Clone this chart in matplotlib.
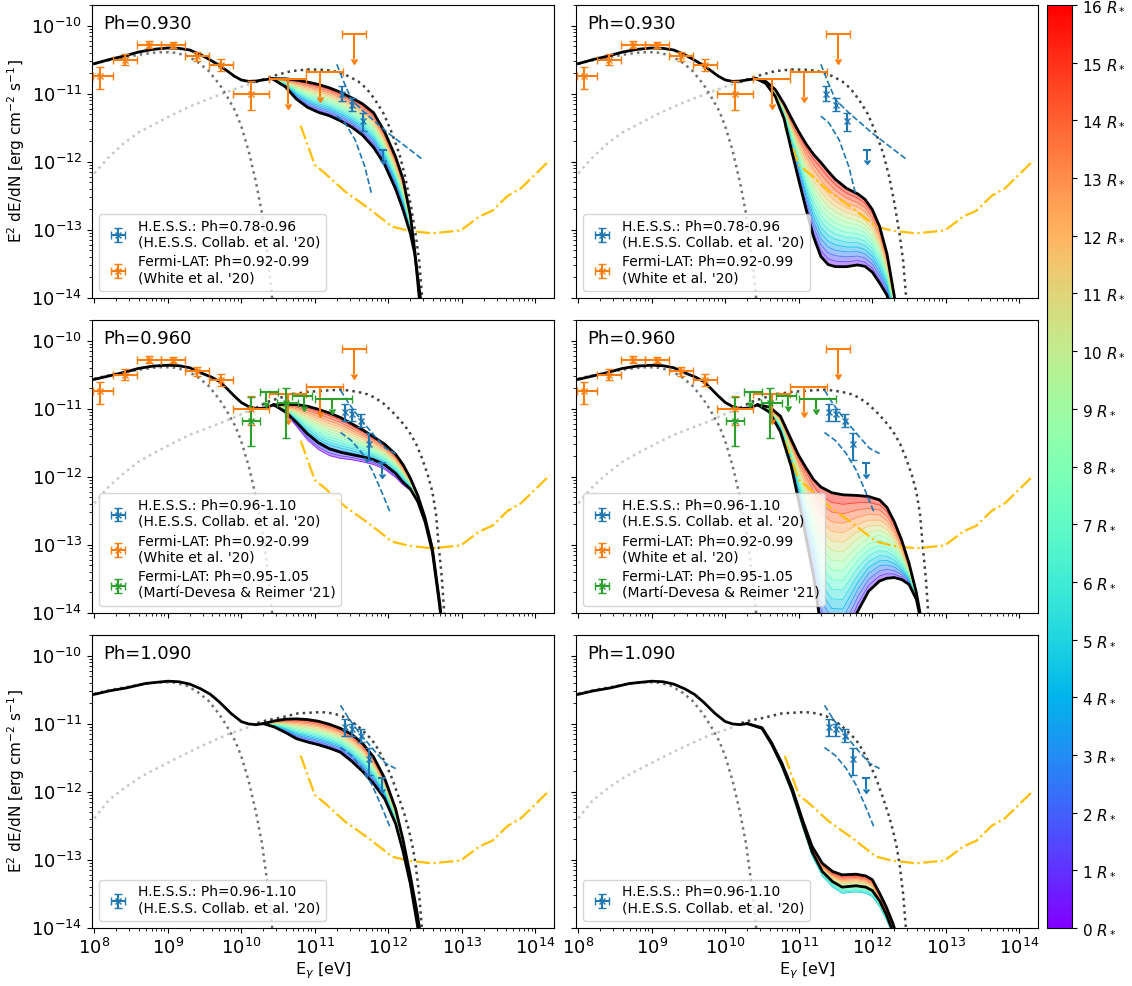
import numpy as np
import matplotlib
matplotlib.use("Agg")
import matplotlib.pyplot as plt
from matplotlib.colors import Normalize
from matplotlib.cm import ScalarMappable

# ---------------- data ----------------
# Fermi-LAT, White et al. '20 (Ph=0.92-0.99)
fermi_E = [1.2e8, 2.58e8, 5.6e8, 1.17e9, 2.47e9, 5.27e9, 1.36e10]
fermi_Elo = [9.5e7, 1.79e8, 3.8e8, 8.1e8, 1.69e9, 3.65e9, 7.8e9]
fermi_Ehi = [1.79e8, 3.8e8, 8.1e8, 1.69e9, 3.65e9, 7.8e9, 2.42e10]
fermi_F = [1.8e-11, 3.16e-11, 5.26e-11, 5.1e-11, 3.54e-11, 2.67e-11, 9.9e-12]
fermi_Flo = [1.17e-11, 2.67e-11, 4.68e-11, 4.6e-11, 3.05e-11, 2.18e-11, 5.8e-12]
fermi_Fhi = [2.44e-11, 3.83e-11, 5.9e-11, 5.75e-11, 4.1e-11, 3.24e-11, 1.52e-11]
fermi_ul_E = [4.3e10, 1.16e11, 3.47e11]
fermi_ul_Elo = [2.42e10, 7.5e10, 2.37e11]
fermi_ul_Ehi = [7.5e10, 2.39e11, 5.0e11]
fermi_ul_F = [1.66e-11, 2.08e-11, 7.6e-11]

# Fermi-LAT, Marti-Devesa & Reimer '21 (Ph=0.95-1.05)
green_E = [1.36e10, 4.0e10]
green_Elo = [1.02e10, 3.1e10]
green_Ehi = [1.82e10, 6.0e10]
green_F = [6.5e-12, 1.21e-11]
green_Flo = [2.86e-12, 3.7e-12]
green_Fhi = [1.47e-11, 2.01e-11]
green_ul_E = [2.2e10, 7.2e10, 1.7e11]
green_ul_Elo = [1.82e10, 4.9e10, 1.0e11]
green_ul_Ehi = [3.2e10, 9.2e10, 3.2e11]
green_ul_F = [1.76e-11, 1.55e-11, 1.4e-11]

# H.E.S.S. Ph=0.78-0.96
hessA_E = [2.37e11, 3.25e11, 4.6e11]
hessA_F = [9.9e-12, 6.9e-12, 4.0e-12]
hessA_Flo = [7.7e-12, 5.5e-12, 2.79e-12]
hessA_Fhi = [1.31e-11, 8.6e-12, 5.2e-12]
hessA_ul_E = [8.4e11]
hessA_ul_F = [1.5e-12]
# H.E.S.S. Ph=0.96-1.10
hessB_E = [2.57e11, 3.25e11, 4.26e11, 5.5e11]
hessB_F = [8.9e-12, 8.4e-12, 6.5e-12, 3.0e-12]
hessB_Flo = [6.5e-12, 6.5e-12, 5.4e-12, 1.74e-12]
hessB_Fhi = [1.16e-11, 9.8e-12, 8.3e-12, 4.4e-12]
hessB_ul_E = [8.2e11]
hessB_ul_F = [1.58e-12]

# H.E.S.S. butterflies (log10 E, log10 F)
bflyA_up_lE = [11.30, 11.40, 11.50, 11.68, 12.00, 12.46]
bflyA_up_lF = [-10.57, -10.84, -11.09, -11.28, -11.58, -11.96]
bflyA_lo_lE = [11.30, 11.41, 11.55, 11.68, 11.77]
bflyA_lo_lF = [-11.33, -11.43, -11.68, -12.07, -12.46]
bflyB_up_lE = [11.35, 11.46, 11.59, 11.78, 11.96, 12.10]
bflyB_up_lF = [-10.73, -10.92, -11.11, -11.36, -11.58, -11.66]
bflyB_lo_lE = [11.35, 11.50, 11.64, 11.78, 11.91, 12.02]
bflyB_lo_lF = [-11.35, -11.47, -11.65, -11.90, -12.22, -12.51]

# CTA sensitivity
cta_E = [6.43e10, 1.0e11, 1.37e11, 2.58e11, 5.38e11, 1.12e12, 1.9e12, 3.96e12,
         9.7e12, 1.73e13, 2.63e13, 4.22e13, 6.43e13, 1.57e14]
cta_F = [3.38e-12, 9.0e-13, 6.8e-13, 3.66e-13, 2.08e-13, 1.12e-13, 9.7e-14, 8.9e-14,
         9.8e-14, 1.57e-13, 1.92e-13, 3.16e-13, 4.1e-13, 1.05e-12]

# low-energy component (dotted), same in all panels (log10 E, log10 F)
low_lE = [8.0, 8.2, 8.4, 8.6, 8.8, 8.95, 9.1, 9.25, 9.4, 9.55, 9.7, 9.8, 9.92, 10.0, 10.1, 10.2, 10.28, 10.35, 10.4, 10.43]
low_lF = [-10.56, -10.51, -10.47, -10.43, -10.40, -10.39, -10.40, -10.44, -10.53, -10.66, -10.86, -11.03, -11.26, -11.48, -11.84, -12.3, -12.75, -13.3, -13.8, -14.1]

# unabsorbed IC component (dotted), per row
ic_top_lE = [8.0, 8.2, 8.4, 8.6, 8.85, 9.1, 9.3, 9.55, 9.77, 10.0, 10.2, 10.36, 10.5, 10.68, 10.9, 11.14, 11.3, 11.45,
             11.59, 11.7, 11.82, 11.94, 12.05, 12.15, 12.23, 12.3, 12.37, 12.42, 12.46, 12.48]
ic_top_lF = [-12.17, -11.93, -11.73, -11.57, -11.43, -11.29, -11.19, -11.08, -10.99, -10.9, -10.83, -10.77, -10.72, -10.67,
             -10.645, -10.65, -10.68, -10.74, -10.82, -10.92, -11.09, -11.3, -11.58, -11.88, -12.22, -12.6, -13.05, -13.45, -13.98, -14.3]
ic_mid_lE = [8.0, 8.2, 8.4, 8.6, 8.85, 9.1, 9.31, 9.55, 9.77, 10.0, 10.2, 10.36, 10.5, 10.68, 10.9, 11.14, 11.37, 11.59,
             11.72, 11.82, 11.94, 12.05, 12.17, 12.28, 12.38, 12.46, 12.54, 12.6, 12.65, 12.69, 12.73, 12.76, 12.78]
ic_mid_lF = [-12.39, -12.14, -11.95, -11.78, -11.63, -11.49, -11.38, -11.28, -11.19, -11.08, -10.99, -10.9, -10.85, -10.79,
             -10.755, -10.735, -10.72, -10.755, -10.79, -10.84, -10.93, -11.04, -11.18, -11.33, -11.52, -11.73, -11.98, -12.22,
             -12.55, -13.05, -13.5, -13.98, -14.3]
ic_bot_lE = [8.0, 8.2, 8.44, 8.65, 8.9, 9.1, 9.36, 9.6, 9.81, 10.0, 10.13, 10.22, 10.35, 10.5, 10.77, 11.09, 11.25, 11.37,
             11.48, 11.59, 11.68, 11.78, 11.87, 11.96, 12.05, 12.14, 12.22, 12.28, 12.33, 12.37, 12.42, 12.46, 12.48]
ic_bot_lF = [-12.39, -12.12, -11.92, -11.77, -11.63, -11.52, -11.38, -11.26, -11.16, -11.09, -11.04, -10.99, -10.95, -10.92,
             -10.85, -10.83, -10.85, -10.89, -10.95, -11.04, -11.13, -11.24, -11.39, -11.58, -11.8, -12.07, -12.33, -12.56,
             -12.8, -13.05, -13.5, -14.03, -14.3]

# total model below the split, per row
tot_top_lE = [8.0, 8.2, 8.4, 8.6, 8.8, 9.0, 9.15, 9.3, 9.45, 9.6, 9.7, 9.8, 9.9, 10.0, 10.1, 10.2, 10.32, 10.42]
tot_top_lF = [-10.56, -10.50, -10.45, -10.39, -10.35, -10.33, -10.335, -10.36, -10.43, -10.52, -10.585, -10.66, -10.74,
              -10.80, -10.82, -10.815, -10.795, -10.78]
tot_mid_lE = [8.0, 8.2, 8.4, 8.6, 8.8, 9.0, 9.15, 9.3, 9.45, 9.6, 9.7, 9.8, 9.9, 10.0, 10.1, 10.2, 10.32, 10.44]
tot_mid_lF = [-10.57, -10.52, -10.47, -10.41, -10.375, -10.363, -10.37, -10.40, -10.475, -10.54, -10.60, -10.70, -10.81,
              -10.91, -10.97, -11.0, -10.99, -10.945]
tot_bot_lE = [8.0, 8.2, 8.44, 8.7, 9.0, 9.15, 9.3, 9.45, 9.58, 9.7, 9.86, 10.0, 10.1, 10.2, 10.3]
tot_bot_lF = [-10.57, -10.52, -10.475, -10.41, -10.377, -10.385, -10.42, -10.49, -10.57, -10.68, -10.85, -10.97, -11.005,
              -11.015, -11.0]

# absorbed model bands: 16 R* (upper) ... 0 R* (lower)
TL_lE = [10.42, 10.6, 10.75, 10.9, 11.05, 11.2, 11.35, 11.5, 11.65, 11.8, 11.95, 12.1, 12.2, 12.3, 12.36, 12.42, 12.45]
TL_hi = [-10.78, -10.782, -10.8, -10.83, -10.865, -10.915, -10.98, -11.06, -11.15, -11.28, -11.56, -11.93, -12.25, -12.78, -13.3, -13.98, -14.4]
TL_lo = [-10.78, -10.9, -11.08, -11.2, -11.275, -11.325, -11.4, -11.49, -11.61, -11.79, -12.04, -12.4, -12.7, -13.05, -13.35, -13.85, -14.1]

TR_lE = [10.42, 10.55, 10.68, 10.8, 10.9, 11.0, 11.1, 11.2, 11.3, 11.4, 11.5, 11.65, 11.8, 11.9, 12.0, 12.1, 12.2, 12.3, 12.35]
TR_hi = [-10.78, -10.82, -10.94, -11.15, -11.36, -11.56, -11.74, -11.89, -12.01, -12.14, -12.26, -12.39, -12.47, -12.55, -12.7, -12.95, -13.35, -13.97, -14.4]
TR_lo = [-10.78, -10.85, -11.04, -11.37, -11.83, -12.27, -12.7, -13.1, -13.39, -13.51, -13.54, -13.54, -13.515, -13.535, -13.62, -13.78, -13.96, -14.3, -14.6]

ML_lE = [10.44, 10.6, 10.75, 10.9, 11.05, 11.2, 11.35, 11.5, 11.65, 11.8, 11.95, 12.1, 12.2, 12.3, 12.4, 12.5, 12.6, 12.7, 12.75]
ML_hi = [-10.945, -10.935, -10.94, -10.965, -11.01, -11.065, -11.13, -11.22, -11.31, -11.415, -11.52, -11.67, -11.82, -12.02, -12.27, -12.6, -13.05, -13.85, -14.4]
ML_lo = [-10.945, -11.07, -11.26, -11.46, -11.6, -11.69, -11.73, -11.75, -11.78, -11.82, -11.89, -12.01, -12.12, -12.2, -12.38, -12.68, -13.1, -13.9, -14.4]
ML_black_lo = [-10.945, -11.045, -11.2, -11.37, -11.5, -11.59, -11.64, -11.675, -11.705, -11.75, -11.82, -11.95, -12.08, -12.18, -12.36, -12.66, -13.1, -13.9, -14.4]

MR_lE = [10.44, 10.6, 10.75, 10.9, 11.0, 11.1, 11.2, 11.3, 11.45, 11.6, 11.8, 11.95, 12.1, 12.2, 12.3, 12.4, 12.5, 12.6, 12.7]
MR_hi = [-10.945, -10.975, -11.11, -11.46, -11.69, -11.87, -12.04, -12.15, -12.235, -12.265, -12.275, -12.29, -12.34, -12.45, -12.66, -12.93, -13.27, -13.7, -14.3]
MR_lo = [-10.945, -11.05, -11.34, -11.86, -12.36, -12.9, -13.45, -14.2, -14.5, -14.5, -13.98, -13.68, -13.53, -13.49, -13.48, -13.51, -13.58, -13.8, -14.3]

BL_lE = [10.3, 10.45, 10.6, 10.75, 10.9, 11.05, 11.2, 11.35, 11.5, 11.65, 11.8, 11.95, 12.1, 12.2, 12.3, 12.4, 12.45]
BL_hi = [-11.0, -10.96, -10.935, -10.93, -10.94, -10.965, -11.01, -11.07, -11.155, -11.29, -11.49, -11.8, -12.25, -12.7, -13.23, -13.82, -14.2]
BL_lo = [-11.0, -11.05, -11.13, -11.22, -11.27, -11.31, -11.36, -11.42, -11.55, -11.7, -11.88, -12.1, -12.47, -12.87, -13.35, -13.98, -14.3]

BR_lE = [10.3, 10.5, 10.63, 10.77, 10.91, 11.05, 11.18, 11.32, 11.46, 11.59, 11.78, 11.91, 12.0, 12.1, 12.19, 12.28, 12.33]
BR_hi = [-11.0, -11.06, -11.28, -11.58, -11.95, -12.41, -12.8, -13.05, -13.17, -13.22, -13.21, -13.235, -13.29, -13.49, -13.69, -13.93, -14.1]
BR_lo = [-11.0, -11.08, -11.32, -11.64, -12.03, -12.51, -12.94, -13.24, -13.4, -13.49, -13.47, -13.49, -13.54, -13.69, -13.88, -14.1, -14.25]
BR_black_lo = [-11.0, -11.07, -11.3, -11.61, -11.99, -12.46, -12.88, -13.17, -13.32, -13.40, -13.38, -13.40, -13.45, -13.6, -13.8, -14.05, -14.2]

phase_labels = ["Ph=0.930", "Ph=0.960", "Ph=1.090"]
x_major = [1e8, 1e9, 1e10, 1e11, 1e12, 1e13, 1e14]
y_major = [1e-14, 1e-13, 1e-12, 1e-11, 1e-10]
cbar_ticks = list(range(17))

# ---------------- figure ----------------
W, H = 1132, 986
fig = plt.figure(figsize=(W / 100, H / 100), dpi=100)
cmap = plt.get_cmap("rainbow")

col_x = [92, 576]
row_top = [5, 320, 635]
ax_w, ax_h = 462, 293

C_ORANGE = "#ff7f0e"
C_BLUE = "#1f77b4"
C_GREEN = "#2ca02c"
C_CTA = "#ffbf00"


def L(a):
    return 10 ** np.asarray(a, dtype=float)


def draw_band(ax, lE, lo, hi, cmin=0.0, n=16):
    E = L(lE)
    lo = np.asarray(lo, float)
    hi = np.asarray(hi, float)
    lv = [lo + (hi - lo) * k / n for k in range(n + 1)]
    for k in range(n):
        c = cmap(cmin + (1 - cmin) * (k + 0.5) / n)
        ax.fill_between(E, 10 ** lv[k], 10 ** lv[k + 1], color=c, alpha=0.45, lw=0, zorder=2)
    for k in range(n + 1):
        ax.plot(E, 10 ** lv[k], color=cmap(cmin + (1 - cmin) * k / n), lw=0.6, alpha=0.8, zorder=2.1)


def ul(ax, E, Elo, Ehi, F, color, frac):
    E = np.asarray(E); F = np.asarray(F)
    xerr = [E - np.asarray(Elo), np.asarray(Ehi) - E]
    ax.errorbar(E, F, xerr=xerr, fmt="none", ecolor=color, elinewidth=1.5, capsize=3, zorder=5)
    ax.vlines(E, F * frac, F, color=color, lw=1.5, zorder=5)
    ax.plot(E, F * frac, ls="none", marker=11, ms=5, color=color, zorder=5)


rows = [
    dict(tot=(tot_top_lE, tot_top_lF), ic=(ic_top_lE, ic_top_lF),
         hess=(hessA_E, hessA_F, hessA_Flo, hessA_Fhi, hessA_ul_E, hessA_ul_F),
         bfly=(bflyA_up_lE, bflyA_up_lF, bflyA_lo_lE, bflyA_lo_lF),
         hess_label="H.E.S.S.: Ph=0.78-0.96\n(H.E.S.S. Collab. et al. '20)",
         fermi=True, green=False),
    dict(tot=(tot_mid_lE, tot_mid_lF), ic=(ic_mid_lE, ic_mid_lF),
         hess=(hessB_E, hessB_F, hessB_Flo, hessB_Fhi, hessB_ul_E, hessB_ul_F),
         bfly=(bflyB_up_lE, bflyB_up_lF, bflyB_lo_lE, bflyB_lo_lF),
         hess_label="H.E.S.S.: Ph=0.96-1.10\n(H.E.S.S. Collab. et al. '20)",
         fermi=True, green=True),
    dict(tot=(tot_bot_lE, tot_bot_lF), ic=(ic_bot_lE, ic_bot_lF),
         hess=(hessB_E, hessB_F, hessB_Flo, hessB_Fhi, hessB_ul_E, hessB_ul_F),
         bfly=(bflyB_up_lE, bflyB_up_lF, bflyB_lo_lE, bflyB_lo_lF),
         hess_label="H.E.S.S.: Ph=0.96-1.10\n(H.E.S.S. Collab. et al. '20)",
         fermi=False, green=False),
]
bands = [
    [dict(lE=TL_lE, hi=TL_hi, lo=TL_lo, blo=TL_lo, cmin=0.0),
     dict(lE=TR_lE, hi=TR_hi, lo=TR_lo, blo=TR_lo, cmin=0.0)],
    [dict(lE=ML_lE, hi=ML_hi, lo=ML_lo, blo=ML_black_lo, cmin=0.0),
     dict(lE=MR_lE, hi=MR_hi, lo=MR_lo, blo=MR_lo, cmin=0.0)],
    [dict(lE=BL_lE, hi=BL_hi, lo=BL_lo, blo=BL_lo, cmin=0.0),
     dict(lE=BR_lE, hi=BR_hi, lo=BR_lo, blo=BR_black_lo, cmin=0.3)],
]

for r, row in enumerate(rows):
    for c in range(2):
        x0 = col_x[c] / W
        y0 = 1 - (row_top[r] + ax_h) / H
        ax = fig.add_axes([x0, y0, ax_w / W, ax_h / H])
        ax.set_xscale("log")
        ax.set_yscale("log")

        # model band
        b = bands[r][c]
        draw_band(ax, b["lE"], b["lo"], b["hi"], b["cmin"])
        ax.plot(L(b["lE"]), L(b["hi"]), color="k", lw=2, zorder=3)
        ax.plot(L(b["lE"]), L(b["blo"]), color="k", lw=2, zorder=3)
        ax.plot(L(row["tot"][0]), L(row["tot"][1]), color="k", lw=2, zorder=3)

        # components
        ax.plot(L(low_lE), L(low_lF), color="0.45", ls=":", lw=1.8, zorder=2.5)
        icE, icF = np.asarray(row["ic"][0]), np.asarray(row["ic"][1])
        light = icE <= 10.2
        dark = icE >= 10.2
        ax.plot(L(icE[light]), L(icF[light]), color="0.78", ls=":", lw=1.8, zorder=2.4)
        ax.plot(L(icE[dark]), L(icF[dark]), color="0.25", ls=":", lw=1.8, zorder=2.5)

        # CTA
        ax.plot(cta_E, cta_F, color=C_CTA, ls="-.", lw=1.6, zorder=2.6)

        # butterfly
        bf = row["bfly"]
        ax.plot(L(bf[0]), L(bf[1]), color=C_BLUE, ls="--", lw=1.2, zorder=4)
        ax.plot(L(bf[2]), L(bf[3]), color=C_BLUE, ls="--", lw=1.2, zorder=4)

        handles, labels = [], []
        hE, hF, hFlo, hFhi, hulE, hulF = row["hess"]
        hE = np.asarray(hE); hF = np.asarray(hF)
        eb = ax.errorbar(hE, hF, xerr=np.zeros_like(hE),
                         yerr=[hF - np.asarray(hFlo), np.asarray(hFhi) - hF],
                         fmt="x", ms=4, color=C_BLUE, elinewidth=1.5, capsize=3, zorder=5)
        ax.vlines(hulE, np.asarray(hulF) * 0.7, hulF, color=C_BLUE, lw=1.5, zorder=5)
        ax.plot(hulE, hulF, ls="none", marker="_", ms=6, mew=1.5, color=C_BLUE, zorder=5)
        ax.plot(hulE, np.asarray(hulF) * 0.7, ls="none", marker=11, ms=4, color=C_BLUE, zorder=5)
        handles.append(eb); labels.append(row["hess_label"])

        if row["fermi"]:
            fE = np.asarray(fermi_E); fF = np.asarray(fermi_F)
            eb2 = ax.errorbar(fE, fF, xerr=[fE - np.asarray(fermi_Elo), np.asarray(fermi_Ehi) - fE],
                              yerr=[fF - np.asarray(fermi_Flo), np.asarray(fermi_Fhi) - fF],
                              fmt="x", ms=4, color=C_ORANGE, elinewidth=1.5, capsize=3, zorder=5)
            ul(ax, fermi_ul_E, fermi_ul_Elo, fermi_ul_Ehi, fermi_ul_F, C_ORANGE, 0.43)
            handles.append(eb2); labels.append("Fermi-LAT: Ph=0.92-0.99\n(White et al. '20)")
        if row["green"]:
            gE = np.asarray(green_E); gF = np.asarray(green_F)
            eb3 = ax.errorbar(gE, gF, xerr=[gE - np.asarray(green_Elo), np.asarray(green_Ehi) - gE],
                              yerr=[gF - np.asarray(green_Flo), np.asarray(green_Fhi) - gF],
                              fmt="x", ms=4, color=C_GREEN, elinewidth=1.5, capsize=3, zorder=5)
            ul(ax, green_ul_E, green_ul_Elo, green_ul_Ehi, green_ul_F, C_GREEN, 0.7)
            handles.append(eb3); labels.append("Fermi-LAT: Ph=0.95-1.05\n(Martí-Devesa & Reimer '21)")

        ax.legend(handles, labels, loc="lower left", fontsize=10, handletextpad=0.4,
                  borderaxespad=0.5, labelspacing=0.4)

        ax.set_xticks(x_major)
        ax.set_yticks(y_major)
        ax.set_xlim(9.3e7, 1.8e14)
        ax.set_ylim(1e-14, 2e-10)
        ax.text(0.025, 0.965, phase_labels[r], transform=ax.transAxes, fontsize=13,
                va="top", ha="left")
        ax.tick_params(axis="both", which="major", labelsize=13)
        if r < 2:
            ax.tick_params(labelbottom=False)
        else:
            ax.set_xlabel(r"E$_\gamma$ [eV]", fontsize=11.5, labelpad=2)
        if c == 1:
            ax.tick_params(labelleft=False)
        elif r != 1:
            ax.set_ylabel(r"E$^2$ dE/dN [erg cm$^{-2}$ s$^{-1}$]", fontsize=11, labelpad=3)

# colorbar
cax = fig.add_axes([1047 / W, 1 - 928 / H, 25 / W, 923 / H])
sm = ScalarMappable(norm=Normalize(0, 16), cmap=cmap)
cb = fig.colorbar(sm, cax=cax, ticks=cbar_ticks)
cb.set_ticklabels([f"{t} $R_*$" for t in cbar_ticks])
cb.ax.tick_params(labelsize=11)

fig.savefig("out.png", dpi=100)
